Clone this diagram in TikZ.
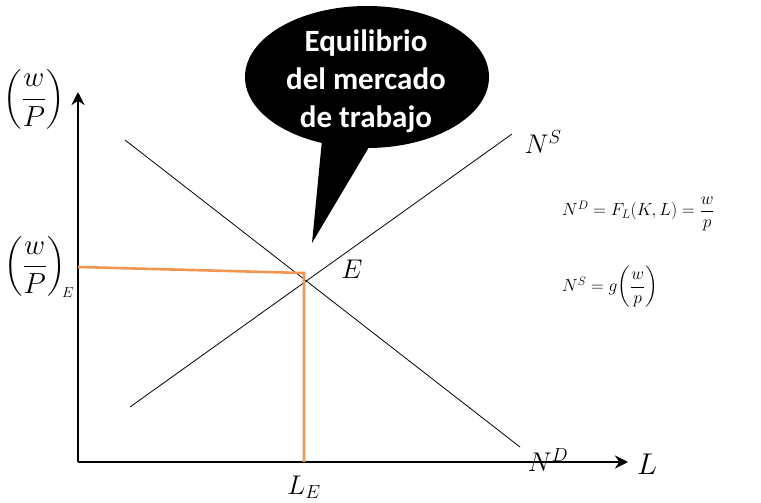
\RequirePackage{fix-cm}
\documentclass[tikz,border=0pt]{standalone}
\usepackage{amsmath}
\usepackage{fontspec}
\newfontfamily\calib{Carlito}
\usetikzlibrary{shapes.geometric,arrows.meta}
\begin{document}
\begin{tikzpicture}[x=1pt,y=-1pt,
  axis/.style={line width=2.8pt,-{Stealth[length=13pt,width=13pt]}},
  curve/.style={line width=0.8pt},
  lbl/.style={inner sep=0pt,font=\fontsize{27}{29}\selectfont},
  eq/.style={inner sep=0pt,anchor=west,font=\fontsize{17.5}{19}\selectfont}]
\useasboundingbox (0,0) rectangle (761,503);
\definecolor{orng}{RGB}{240,150,80}
% axes
\coordinate (O) at (78,462);
\coordinate (Ytop) at (78,92);
\coordinate (Xend) at (628,462);
\draw[axis] (O) -- (Ytop);
\draw[axis] (O) -- (Xend);
% curves
\coordinate (S1) at (130,407);
\coordinate (S2) at (512,134);
\coordinate (D1) at (125,140);
\coordinate (D2) at (520,447);
\draw[curve] (S1) -- (S2);
\draw[curve] (D1) -- (D2);
% equilibrium
\coordinate (E) at (304,273);
\coordinate (Ey) at (78,267);
\coordinate (Ex) at (304,462);
\draw[draw=orng,line width=2.6pt] (Ey) -- (E) -- (Ex);
% labels
\node[lbl,font=\fontsize{30}{32}\selectfont] (Lx) at (647,464) {$L$};
\node[lbl] (LE) at (304,487) {$L_{E}$};
\node[lbl] (Elab) at (352,269) {$E$};
\node[lbl] (NS) at (543,142) {$N^{S}$};
\node[lbl] (ND) at (548,460) {$N^{D}$};
\node[lbl,font=\fontsize{29}{31}\selectfont] (wP) at (34,99) {$\left(\dfrac{w}{P}\right)$};
\node[lbl,font=\fontsize{29}{31}\selectfont] (wPE) at (39,267) {$\left(\dfrac{w}{P}\right)_{\!\scriptscriptstyle E}$};
% equations
\node[eq] (eq1) at (562,214) {$N^{D}=F_{L}(K,L)=\dfrac{w}{p}$};
\node[eq] (eq2) at (562,287) {$N^{S}=g\!\left(\dfrac{w}{p}\right)$};
% bubble
\fill[black] (322,140) -- (312,243) -- (372,142) -- cycle;
\node[ellipse,fill=black,minimum width=244pt,minimum height=142pt,inner sep=0pt] (bub) at (367,77) {};
\node[text=white,align=center,font=\calib\bfseries\fontsize{31}{38}\selectfont] (btxt) at (366,81) {Equilibrio\\del mercado\\de trabajo};
\end{tikzpicture}
\end{document}
